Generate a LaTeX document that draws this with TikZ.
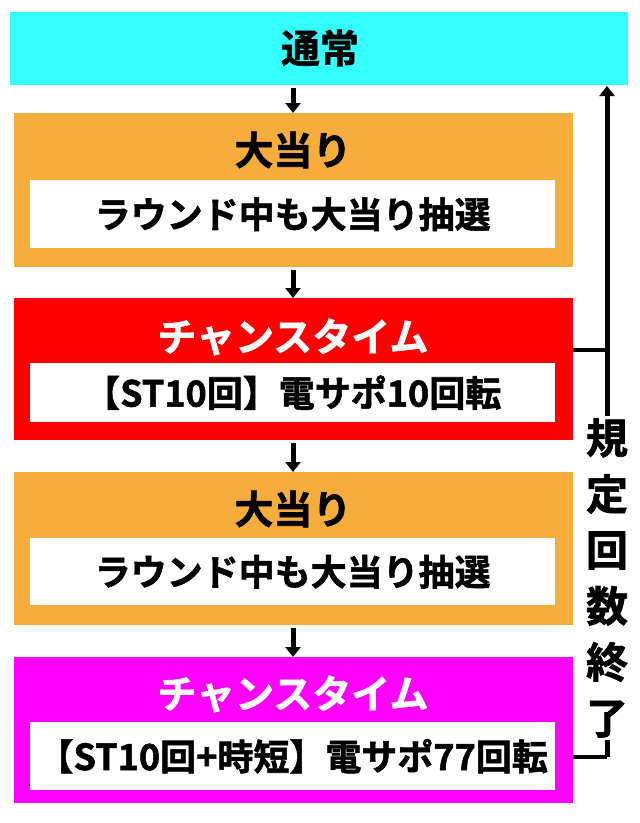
\documentclass[tikz,border=0pt]{standalone}
\usepackage{fontspec}
\newfontfamily\jp{Noto Sans CJK JP}[BoldFont={* Bold},BoldFeatures={FakeBold=1.5}]
\usetikzlibrary{arrows.meta}
\definecolor{cy}{HTML}{33FFFF}
\definecolor{org}{HTML}{F7AD3C}
\definecolor{rd}{HTML}{FF0000}
\definecolor{mg}{HTML}{FF00FF}
\tikzset{
 outer/.style={draw=none,minimum width=559pt,anchor=north west,inner sep=0pt},
 inner/.style={fill=white,minimum width=525pt,anchor=north west,inner sep=0pt,font=\jp\bfseries\fontsize{36}{38}\selectfont},
 ttl/.style={font=\jp\bfseries\fontsize{39}{40}\selectfont},
 arr/.style={line width=5pt,-{Triangle[width=15pt,length=10pt]}},
 con/.style={line width=4pt}
}
\begin{document}
\begin{tikzpicture}[x=1pt,y=-1pt]
\useasboundingbox (0,0) rectangle (640,823);
\node[outer,fill=cy,minimum width=618pt,minimum height=73pt] (top) at (10,12) {};
\node[ttl] (toptext) at (320,48) {通常};
\node[outer,fill=org,minimum height=154pt] (b1) at (14,113) {};
\node[ttl] (b1t) at (293,150) {大当り};
\node[inner,minimum height=68pt] (b1i) at (30,180) {ラウンド中も大当り抽選\hspace{20pt}};
\node[outer,fill=rd,minimum height=142pt] (b2) at (14,298) {};
\node[ttl,text=white] (b2t) at (293,337) {チャンスタイム};
\node[inner,minimum height=59pt] (b2i) at (30,363) {【ST10回】電サポ10回転};
\node[outer,fill=org,minimum height=153pt] (b3) at (14,472) {};
\node[ttl] (b3t) at (293,509) {大当り};
\node[inner,minimum height=67pt] (b3i) at (30,538) {ラウンド中も大当り抽選\hspace{20pt}};
\node[outer,fill=mg,minimum height=146pt] (b4) at (14,657) {};
\node[ttl,text=white] (b4t) at (293,694) {チャンスタイム};
\node[inner,minimum height=68pt] (b4i) at (30,722) {【ST10回+時短】電サポ77回転};
\draw[arr] (top.south -| b1t) ++(0,3) coordinate (a0) -- (a0 |- b1.north);
\draw[arr] (b1t |- b1.south) ++(0,3) coordinate (a1) -- (a1 |- b2.north);
\draw[arr] (b2t |- b2.south) ++(0,3) coordinate (a2) -- (a2 |- b3.north);
\draw[arr] (b3t |- b3.south) ++(0,3) coordinate (a3) -- (a3 |- b4.north);
\coordinate (r1) at (607,350);
\coordinate (r2) at (607,757);
\coordinate (rt) at (607,86);
\draw[con] (573,350) -- (r1);
\draw[con] (573,757) -- (r2);
\draw[arr] (r2) -- (rt);
\node[fill=white,inner sep=2pt,align=center,font=\jp\bfseries\fontsize{42}{56}\selectfont] (lbl) at (607,578) {規\\定\\回\\数\\終\\了};
\end{tikzpicture}
\end{document}
